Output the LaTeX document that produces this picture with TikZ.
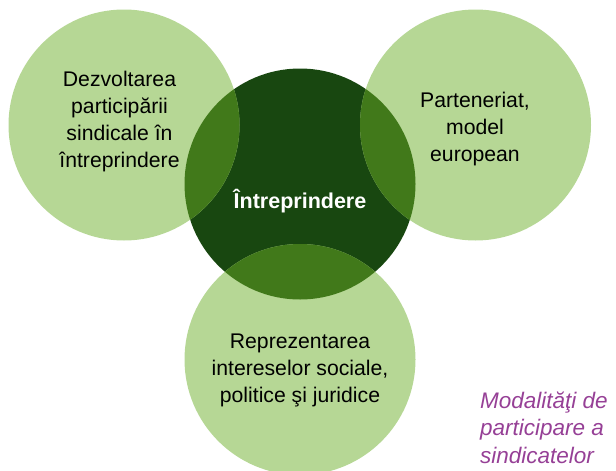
\documentclass[tikz,border=0pt]{standalone}
\usepackage{fontspec}
\setmainfont{Liberation Sans}
\definecolor{lightg}{RGB}{182,215,149}
\definecolor{darkg}{RGB}{24,71,16}
\definecolor{overg}{RGB}{65,121,26}
\definecolor{capt}{RGB}{150,64,150}
\tikzset{
  bubble/.style={circle,inner sep=0pt,minimum size=231pt},
  lbl/.style={align=center,inner sep=0pt,anchor=base,text=black,
    font=\fontsize{21.2}{26.7}\selectfont},
}
\begin{document}
\begin{tikzpicture}[x=1pt,y=-1pt]
\useasboundingbox (0,0) rectangle (616,471);
\begin{scope}
\clip (0,0) rectangle (616,471);
\node[bubble,fill=darkg] (C) at (300,184) {};
\node[bubble,fill=lightg] (L) at (124,125) {};
\node[bubble,fill=lightg] (R) at (475.5,125) {};
\node[bubble,fill=lightg] (B) at (300,359.5) {};
\begin{scope}
\clip (124,125) circle (115.5pt);
\fill[overg] (300,184) circle (115.5pt);
\end{scope}
\begin{scope}
\clip (475.5,125) circle (115.5pt);
\fill[overg] (300,184) circle (115.5pt);
\end{scope}
\begin{scope}
\clip (300,359.5) circle (115.5pt);
\fill[overg] (300,184) circle (115.5pt);
\end{scope}
\end{scope}
\node[lbl] (tl) at (119.5,167) {Dezvoltarea\\participării\\sindicale în\\întreprindere};
\node[lbl] (tr) at (475,161) {Parteneriat,\\model\\european};
\node[lbl] (tb) at (300,402) {Reprezentarea\\intereselor sociale,\\politice şi juridice};
\node[anchor=base,inner sep=0pt,text=white,font=\fontsize{21.5}{25}\selectfont\bfseries] (tc) at (300,208) {Întreprindere};
\node[anchor=base west,align=left,inner sep=0pt,text=capt,
  font=\fontsize{22.5}{27.5}\selectfont\itshape] (cap) at (480,463)
  {Modalităţi de\\participare a\\sindicatelor};
\end{tikzpicture}
\end{document}
